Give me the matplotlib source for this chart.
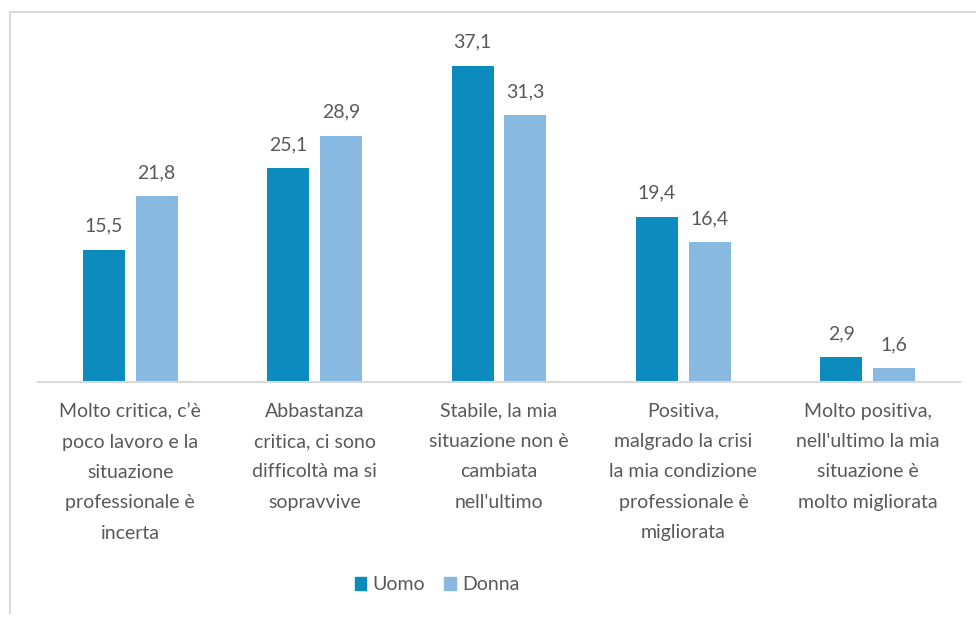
import matplotlib.pyplot as plt
from matplotlib.lines import Line2D
from matplotlib.patches import Patch
import numpy as np

plt.rcParams['font.family'] = ['Lato', 'DejaVu Sans']

categories = [
    "Molto critica, c’è\npoco lavoro e la\nsituazione\nprofessionale è\nincerta",
    "Abbastanza\ncritica, ci sono\ndifficoltà ma si\nsopravvive",
    "Stabile, la mia\nsituazione non è\ncambiata\nnell'ultimo",
    "Positiva,\nmalgrado la crisi\nla mia condizione\nprofessionale è\nmigliorata",
    "Molto positiva,\nnell'ultimo la mia\nsituazione è\nmolto migliorata",
]
uomo = [15.5, 25.1, 37.1, 19.4, 2.9]
donna = [21.8, 28.9, 31.3, 16.4, 1.6]

c_uomo = "#0B8BBE"
c_donna = "#88B9E0"
grey = "#595959"

fig = plt.figure(figsize=(9.76, 6.17), dpi=100)
W, H = 976, 617
ax = fig.add_axes([38 / W, 1 - 382 / H, (960 - 38) / W, (382 - 41) / H])

x = np.arange(len(categories))
bw = 0.228
off = 0.143
b1 = ax.bar(x - off, uomo, bw, color=c_uomo, label="Uomo")
b2 = ax.bar(x + off, donna, bw, color=c_donna, label="Donna")

for bars, vals in [(b1, uomo), (b2, donna)]:
    for b, v in zip(bars, vals):
        ax.annotate(f"{v:.1f}".replace(".", ","), (b.get_x() + b.get_width() / 2, v),
                    xytext=(0, 13), textcoords="offset points", ha="center", va="baseline",
                    fontsize=14, color=grey)

ax.set_xlim(-0.5, len(categories) - 0.5)
ax.set_ylim(0, 40)
ax.set_xticks(x)
ax.set_xticklabels(categories, fontsize=14, color=grey, linespacing=1.95)
ax.tick_params(axis="x", length=0, pad=15)
ax.set_yticks([])
for s in ["top", "right", "left"]:
    ax.spines[s].set_visible(False)
ax.spines["bottom"].set_color("#D9D9D9")
ax.spines["bottom"].set_linewidth(1.5)

handles = [Patch(color=c_uomo), Patch(color=c_donna)]
fig.legend(handles, ["Uomo", "Donna"], loc="center", bbox_to_anchor=(437 / W, 1 - 585 / H),
           ncol=2, frameon=False, fontsize=14, handlelength=0.6, handleheight=0.6,
           handletextpad=0.3, columnspacing=1.0, labelcolor=grey)

# chart frame (only top and left edges visible in the crop)
fig.add_artist(Line2D([10 / W, 10 / W], [1 - 12 / H, 1 - 613 / H], color="#D9D9D9", lw=1.5))
fig.add_artist(Line2D([10 / W, 1.0], [1 - 12 / H, 1 - 12 / H], color="#D9D9D9", lw=1.5))

fig.savefig("out.png", dpi=100)
